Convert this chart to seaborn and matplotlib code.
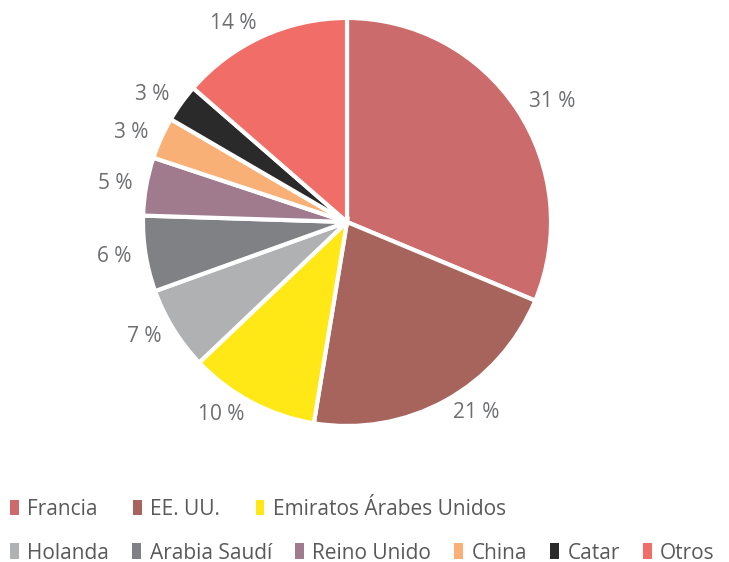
import matplotlib
matplotlib.use("Agg")
import seaborn as sns
from matplotlib import pyplot as plt
from matplotlib.patches import Patch

paises = ["Francia", "EE. UU.", "Emiratos Árabes Unidos", "Holanda", "Arabia Saudí",
          "Reino Unido", "China", "Catar", "Otros"]
porcentajes = [31.3, 21.3, 10.3, 6.6, 6.0, 4.6, 3.3, 3.0, 13.6]
colores = ["#CB6B6B", "#A6645C", "#FFE815", "#B0B1B3", "#808184",
           "#A07B8E", "#F9B077", "#2B2A2B", "#F06E67"]

sns.set_theme(style="white")
plt.rcParams['font.family'] = ['Open Sans', 'DejaVu Sans']

fig = plt.figure(figsize=(7.29, 5.62), dpi=100)
ax = fig.add_axes([0.196, 0.242, 0.560, 0.726])

etiquetas = [f"{round(v)} %" for v in porcentajes]
wedges, texts = ax.pie(
    porcentajes, colors=colores, startangle=90, counterclock=False,
    labels=etiquetas, labeldistance=1.07,
    wedgeprops=dict(edgecolor="white", linewidth=3),
    textprops=dict(color="#6D6E71", fontsize=15))
ax.set_xlim(-1.0, 1.0)
ax.set_ylim(-1.0, 1.0)
ax.set_aspect("equal")

# legend squares without the white wedge edge
handles = [Patch(facecolor=c, edgecolor="none") for c in colores]
leg_kw = dict(frameon=False, fontsize=15, labelcolor="#595959",
              handlelength=0.42, handleheight=0.77, handletextpad=0.4,
              borderaxespad=0, borderpad=0)
fig.legend(handles[:3], paises[:3], ncol=3, loc="center left",
           bbox_to_anchor=(0.014, 0.094), columnspacing=1.7, **leg_kw)
fig.legend(handles[3:], paises[3:], ncol=6, loc="center left",
           bbox_to_anchor=(0.014, 0.016), columnspacing=1.12, **leg_kw)

plt.savefig("out.png", dpi=100)
